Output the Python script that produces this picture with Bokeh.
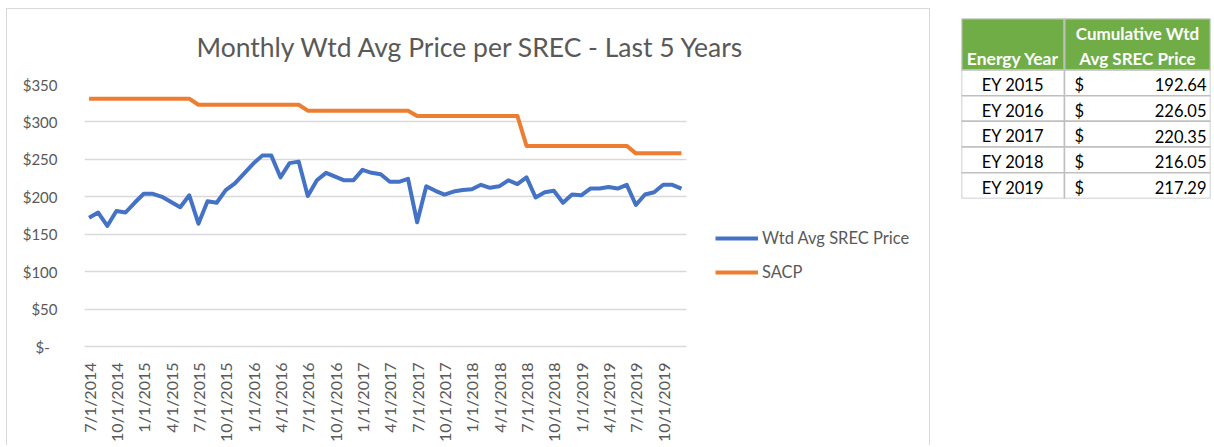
from bokeh.plotting import figure
from bokeh.models import Range1d, FixedTicker, Legend, LegendItem, ColumnDataSource
from bokeh.layouts import row
from bokeh.embed import file_html
from bokeh.resources import INLINE
from bokeh.core.properties import value
import math

# ---------------- data ----------------
months = [
    "7/1/2014", "8/1/2014", "9/1/2014", "10/1/2014", "11/1/2014", "12/1/2014",
    "1/1/2015", "2/1/2015", "3/1/2015", "4/1/2015", "5/1/2015", "6/1/2015",
    "7/1/2015", "8/1/2015", "9/1/2015", "10/1/2015", "11/1/2015", "12/1/2015",
    "1/1/2016", "2/1/2016", "3/1/2016", "4/1/2016", "5/1/2016", "6/1/2016",
    "7/1/2016", "8/1/2016", "9/1/2016", "10/1/2016", "11/1/2016", "12/1/2016",
    "1/1/2017", "2/1/2017", "3/1/2017", "4/1/2017", "5/1/2017", "6/1/2017",
    "7/1/2017", "8/1/2017", "9/1/2017", "10/1/2017", "11/1/2017", "12/1/2017",
    "1/1/2018", "2/1/2018", "3/1/2018", "4/1/2018", "5/1/2018", "6/1/2018",
    "7/1/2018", "8/1/2018", "9/1/2018", "10/1/2018", "11/1/2018", "12/1/2018",
    "1/1/2019", "2/1/2019", "3/1/2019", "4/1/2019", "5/1/2019", "6/1/2019",
    "7/1/2019", "8/1/2019", "9/1/2019", "10/1/2019", "11/1/2019", "12/1/2019",
]

wtd_avg_price = [
    172, 179, 161, 181, 179, 192, 204, 204, 200, 193, 186, 202,
    164, 194, 192, 209, 218, 231, 244, 255, 255, 226, 245, 247,
    201, 222, 232, 227, 222, 222, 236, 232, 230, 220, 220, 224,
    166, 214, 208, 203, 207, 209, 210, 216, 212, 214, 222, 217,
    226, 199, 206, 208, 192, 203, 202, 211, 211, 213, 211, 216,
    189, 203, 206, 216, 216, 211,
]

sacp = [
    331, 331, 331, 331, 331, 331, 331, 331, 331, 331, 331, 331,
    323, 323, 323, 323, 323, 323, 323, 323, 323, 323, 323, 323,
    315, 315, 315, 315, 315, 315, 315, 315, 315, 315, 315, 315,
    308, 308, 308, 308, 308, 308, 308, 308, 308, 308, 308, 308,
    268, 268, 268, 268, 268, 268, 268, 268, 268, 268, 268, 268,
    258, 258, 258, 258, 258, 258,
]

x_tick_labels = [
    "7/1/2014", "10/1/2014", "1/1/2015", "4/1/2015", "7/1/2015", "10/1/2015",
    "1/1/2016", "4/1/2016", "7/1/2016", "10/1/2016", "1/1/2017", "4/1/2017",
    "7/1/2017", "10/1/2017", "1/1/2018", "4/1/2018", "7/1/2018", "10/1/2018",
    "1/1/2019", "4/1/2019", "7/1/2019", "10/1/2019",
]

y_ticks = [0, 50, 100, 150, 200, 250, 300, 350]
y_tick_labels = ["$-\u00a0\u00a0", "$50", "$100", "$150", "$200", "$250", "$300", "$350"]

energy_years = ["EY 2015", "EY 2016", "EY 2017", "EY 2018", "EY 2019"]
cum_wtd_avg_price = [192.64, 226.05, 220.35, 216.05, 217.29]

# ---------------- styles / layout constants ----------------
FONT = "Lato"
TXT = "#595959"
BLUE = "#4472C4"
ORANGE = "#ED7D31"
GRID = "#d9d9d9"

FIG_W, FIG_H = 930, 445
BORDER_L, BORDER_R, BORDER_T = 84, 2, 84
FRAME_H = 262
PLOT_W = 601.5                      # width of the data area in pixels
FRAME_W = FIG_W - BORDER_L - BORDER_R

n_m = len(months)
x_lo = -0.5
x_hi = n_m - 0.5
x_end = x_lo + n_m * FRAME_W / PLOT_W   # frame extends to the right to host the legend

x_idx = list(range(n_m))
src = ColumnDataSource(dict(x=x_idx, price=wtd_avg_price, sacp=sacp))

# light grey chart-area box (left, top and right edges) drawn behind a transparent canvas border
box_line = f"linear-gradient({GRID},{GRID})"
chart_box_css = ", ".join([
    f"{box_line} 6px 8px / 1px 100% no-repeat",
    f"{box_line} 6px 8px / 924px 1px no-repeat",
    f"{box_line} 929px 8px / 1px 100% no-repeat",
])

p = figure(
    width=FIG_W, height=FIG_H, output_backend="svg", toolbar_location=None,
    x_range=Range1d(x_lo, x_end), y_range=Range1d(0, max(y_ticks)),
    min_border_left=BORDER_L, min_border_right=BORDER_R, min_border_top=BORDER_T,
    min_border_bottom=FIG_H - BORDER_T - FRAME_H,
)
p.frame_align = False
p.outline_line_color = None
p.background_fill_color = "white"
p.border_fill_color = None
p.styles = {"background": chart_box_css}

# horizontal gridlines limited to the data area
p.xgrid.grid_line_color = None
g = p.ygrid[0]
if "cross_bounds" in g.properties():
    g.cross_bounds = (x_lo, x_hi)
    g.grid_line_color = GRID
    g.grid_line_width = 1.5
else:
    g.grid_line_color = None
    p.segment(x0=[x_lo] * len(y_ticks), x1=[x_hi] * len(y_ticks), y0=y_ticks, y1=y_ticks,
              line_color=GRID, line_width=1.5)

r_price = p.line("x", "price", source=src, line_color=BLUE, line_width=4, line_join="round")
r_sacp = p.line("x", "sacp", source=src, line_color=ORANGE, line_width=4, line_join="round")

# title
p.title.text = "Monthly Wtd Avg Price per SREC - Last 5 Years"
p.title.text_font = FONT
p.title.text_font_style = "normal"
p.title.text_font_size = "26.5px"
p.title.text_color = TXT
p.title.align = "left"
p.title.offset = 112
p.title.standoff = 44

# axes
p.xaxis.ticker = FixedTicker(ticks=[months.index(l) for l in x_tick_labels])
p.xaxis.major_label_overrides = {months.index(l): l for l in x_tick_labels}
p.xaxis.bounds = (x_lo, x_hi)
p.xaxis.major_label_orientation = math.pi / 2
p.xaxis.major_label_text_font = FONT
p.xaxis.major_label_text_font_size = "16px"
p.xaxis.major_label_text_color = TXT
p.xaxis.major_label_standoff = 10
p.xaxis.major_tick_line_color = None
p.xaxis.minor_tick_line_color = None
p.xaxis.axis_line_color = GRID
p.xaxis.axis_line_width = 1.5

p.yaxis.ticker = FixedTicker(ticks=y_ticks)
p.yaxis.major_label_overrides = dict(zip(y_ticks, y_tick_labels))
p.yaxis.major_label_text_font = FONT
p.yaxis.major_label_text_font_size = "15px"
p.yaxis.major_label_text_color = TXT
p.yaxis.major_label_standoff = 21
p.yaxis.major_tick_line_color = None
p.yaxis.minor_tick_line_color = None
p.yaxis.axis_line_color = None

legend = Legend(
    items=[LegendItem(label="Wtd Avg SREC Price", renderers=[r_price]),
           LegendItem(label="SACP", renderers=[r_sacp])],
    location=(631, 64), padding=0, margin=0, spacing=14,
    glyph_width=43, glyph_height=20, label_height=20, label_standoff=4,
    label_text_font=FONT, label_text_font_size="16.5px", label_text_color=TXT,
    border_line_alpha=0, background_fill_alpha=0,
)
p.add_layout(legend)

# ---------------- table ----------------
COL1 = 103
TW = 249
n = len(energy_years)
t = figure(
    width=282, height=FIG_H, output_backend="svg", toolbar_location=None,
    x_range=Range1d(0, TW), y_range=Range1d(0, n + 2),
    x_axis_type=None, y_axis_type=None,
    min_border_left=31, min_border_right=2, min_border_top=18,
    min_border_bottom=FIG_H - 18 - 180,
)
t.frame_align = False
t.outline_line_color = None
t.grid.visible = False

row_bottom = [n - 1 - i for i in range(n)]
row_mid = [b + 0.42 for b in row_bottom]

# header cells
t.quad(left=[0, COL1], right=[COL1, TW], bottom=[n, n], top=[n + 2, n + 2],
       fill_color="#70AD47", line_color="#bfbfbf", line_width=2)
# body cells
t.quad(left=[0] * n + [COL1] * n, right=[COL1] * n + [TW] * n,
       bottom=row_bottom * 2, top=[b + 1 for b in row_bottom] * 2,
       fill_color="white", line_color="#bfbfbf", line_width=1.5)

hdr_kw = dict(text_font=value(FONT), text_font_style="bold",
              text_color="white", text_align="center", text_baseline="middle")
t.text(x=[COL1 / 2], y=[n + 0.43], text=["Energy Year"], text_font_size="17.5px", **hdr_kw)
t.text(x=[(COL1 + TW) / 2] * 2, y=[n + 1.4, n + 0.43],
       text=["Cumulative Wtd", "Avg SREC Price"], text_font_size="17px", **hdr_kw)

body_kw = dict(text_font=value(FONT), text_font_size="16.5px", text_color="black",
               text_baseline="middle")
t.text(x=[COL1 / 2] * n, y=row_mid, text=energy_years, text_align="center", **body_kw)
t.text(x=[COL1 + 10] * n, y=row_mid, text=["$"] * n, text_align="left", **body_kw)
t.text(x=[TW - 4] * n, y=row_mid, text=[f"{v:.2f}" for v in cum_wtd_avg_price],
       text_align="right", **body_kw)

layout = row(p, t)
open("out.html", "w").write(file_html(layout, INLINE))
